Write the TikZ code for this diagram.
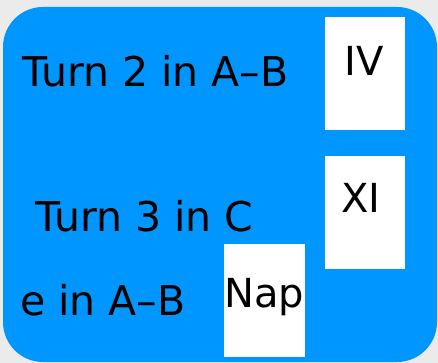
\documentclass[tikz,border=0pt]{standalone}
\usepackage{fontspec}
\setmainfont{DejaVu Sans}
\definecolor{panelblue}{RGB}{0,150,255}
\definecolor{pagegray}{RGB}{235,235,235}

\begin{document}
\begin{tikzpicture}[x=1pt,y=-1pt,
    turn/.style={anchor=base west,inner sep=0pt,font=\fontsize{41}{44}\selectfont},
    tag/.style={anchor=base,inner sep=0pt,font=\fontsize{40}{44}\selectfont}]
    \fill[pagegray] (0,0) rectangle (438,363);
    \useasboundingbox (0,0) rectangle (438,363);
    \begin{scope}
	\fill[panelblue,rounded corners=40pt] (3,7) rectangle (437,362);
	%\draw[ultra thick,red] (3,7) rectangle (437,362);
	\fill[white] (325,17) rectangle (405,130);
	\fill[white] (325,156) rectangle (405,269);
	\fill[white] (224,244) rectangle (305,357);
	\node[tag] (iv) at (364,76) {IV};
	\node[tag] (xi) at (361,212) {XI};
	\node[tag] (nap) at (264,307) {Nap};
	\node[turn] (two) at (22,87) {Turn 2 in A–B};
	\node[turn] (three) at (35,231) {Turn 3 in C};
	\node[turn] (rest) at (20,315) {e in A–B};
    \end{scope}
\end{tikzpicture}
\end{document}
